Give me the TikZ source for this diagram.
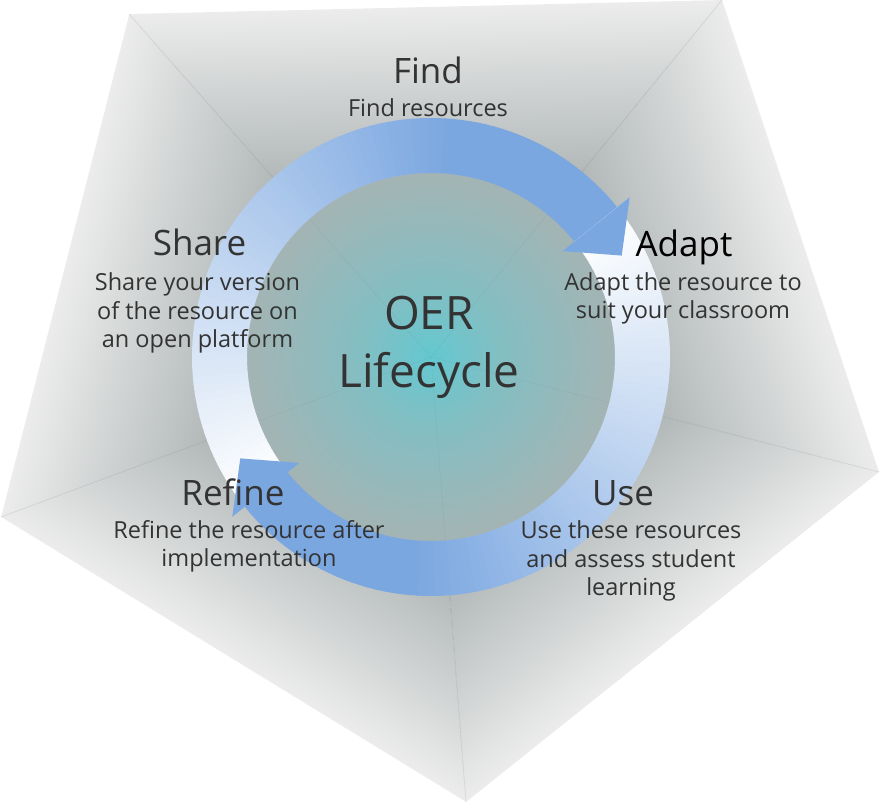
\documentclass[tikz,border=0pt]{standalone}
\usepackage{fontspec}
\setmainfont{Open Sans}

\definecolor{ringblue}{RGB}{123,167,224}
\definecolor{glowteal}{RGB}{100,200,208}
\definecolor{glowmid}{RGB}{132,190,194}
\definecolor{glowgray}{RGB}{164,180,180}
\definecolor{facelight}{RGB}{236,236,236}
\definecolor{facedark}{RGB}{116,129,129}
\definecolor{textdark}{RGB}{51,51,51}

% teal glow for the middle of the cycle
\pgfdeclareradialshading{centreglow}{\pgfpointorigin}{color(0bp)=(glowteal); color(10bp)=(glowmid); color(25bp)=(glowgray); color(50bp)=(glowgray)}

\begin{document}
\begin{tikzpicture}[x=1pt, y=1pt,
    face/.style={top color=facelight, bottom color=facedark},
    ridge/.style={draw=black, opacity=0.07, line width=0.6pt},
    title/.style={font=\fontsize{35}{42}\selectfont, text=textdark, inner sep=0pt, anchor=base},
    desc/.style={font=\fontsize{23.5}{28.7}\selectfont, text=textdark, inner sep=0pt, align=center, anchor=base},
]
\useasboundingbox (0,0) rectangle (880,803);

% pentagon corners and the apex
\coordinate (o) at (431,446);
\coordinate (pa) at (129,789);
\coordinate (pb) at (722,803);
\coordinate (pc) at (879,331);
\coordinate (pd) at (466,1);
\coordinate (pe) at (1,286);

% the five faces: dark at the apex, light at the rim
% (corner, next corner, turn of the face, apex-to-rim distance)
\foreach \p/\q/\r/\d in {pa/pb/1.35/350, pb/pc/-71.6/389, pc/pd/-141.4/370, pd/pe/148.5/361, pe/pa/75.7/377} {
  \begin{scope}
    \clip (o) -- (\p) -- (\q) -- cycle;
    \shade[face, transform canvas={rotate around={\r:(o)}}] (-69,446) rectangle (931,446+\d);
  \end{scope}
}
\foreach \p in {pa,pb,pc,pd,pe}
  \draw[ridge] (o) -- (\p);

% glow in the middle
\shade[shading=centreglow] (o) circle (184);
\foreach \p in {pa,pb,pc,pd,pe}
  \draw[ridge, opacity=0.035] (o) -- (\p);

% the two half rings, white at the tail and blue at the head
\begin{scope}[shift={(o)}]
  \foreach \s in {218.8, 38.8}
    \foreach \k in {0,...,89} {
      \pgfmathsetmacro\a{\s-2*\k}
      \pgfmathsetmacro\b{\a-2.3}
      \pgfmathsetmacro\t{min(100,\k*100/66)}
      \fill[ringblue!\t!white] (\a:239) arc[start angle=\a, end angle=\b, radius=239]
        -- (\b:184) arc[start angle=\b, end angle=\a, radius=184] -- cycle;
    }
  \fill[ringblue] (38.8:255) -- (28:216) -- (38.8:169) -- cycle;
  \fill[ringblue] (218.8:255) -- (208:216) -- (218.8:169) -- cycle;
\end{scope}

% labels
\node[title] (find) at (428,719) {Find};
\node[desc] (findtxt) at (428,686) {Find resources};
\node[title, text=black] (adapt) at (684,546) {Adapt};
\node[desc] (adapttxt) at (683,484) {Adapt the resource to\\suit your classroom};
\node[title] (use) at (623,297) {Use};
\node[desc] (usetxt) at (631,207) {Use these resources\\and assess student\\learning};
\node[title] (refine) at (233,297) {Refine};
\node[desc] (refinetxt) at (249,236) {Refine the resource after\\implementation};
\node[title] (share) at (199.5,547) {Share};
\node[desc] (sharetxt) at (197.5,455) {Share your version\\of the resource on\\an open platform};

\node[font=\fontsize{46}{58}\selectfont, text=textdark, align=center, inner sep=0pt, anchor=base] (oer) at (429,415) {OER\\Lifecycle};

\end{tikzpicture}
\end{document}
